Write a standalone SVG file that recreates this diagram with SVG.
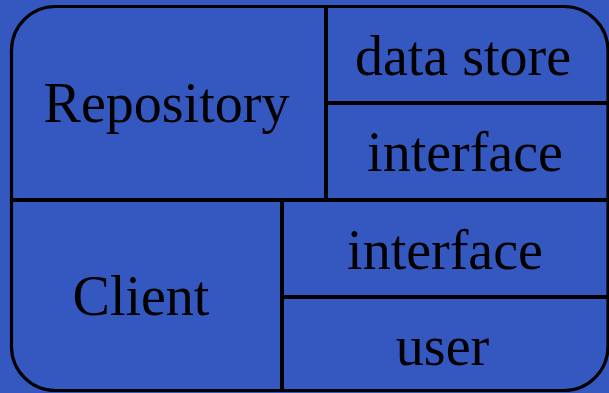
<svg xmlns="http://www.w3.org/2000/svg" width="609" height="393" viewBox="0 0 609 393">
<style>
.bg{fill:#3458C0}
.frame{fill:none;stroke:#000;stroke-width:3.2}
.div{stroke:#000;stroke-width:4;fill:none}
.t{font-family:"Liberation Serif","Times New Roman",serif;font-size:56px;fill:#000;text-anchor:middle}
</style>
<rect class="bg" x="0" y="0" width="609" height="393"/>
<g id="frame">
<rect class="frame" x="11.5" y="6.5" width="596.5" height="384" rx="44" ry="44"/>
</g>
<g id="connectors">
<line class="div" x1="10" y1="200" x2="609" y2="200"/>
<line class="div" x1="326" y1="6" x2="326" y2="200"/>
<line class="div" x1="326" y1="103" x2="609" y2="103"/>
<line class="div" x1="282" y1="200" x2="282" y2="391"/>
<line class="div" x1="282" y1="297" x2="609" y2="297"/>
</g>
<g id="repository"><text class="t" x="166.5" y="122">Repository</text></g>
<g id="data-store"><text class="t" x="463" y="75">data store</text></g>
<g id="repo-interface"><text class="t" x="465" y="171">interface</text></g>
<g id="client"><text class="t" x="141" y="315">Client</text></g>
<g id="client-interface"><text class="t" x="445" y="269">interface</text></g>
<g id="user"><text class="t" x="442.5" y="365">user</text></g>
</svg>
